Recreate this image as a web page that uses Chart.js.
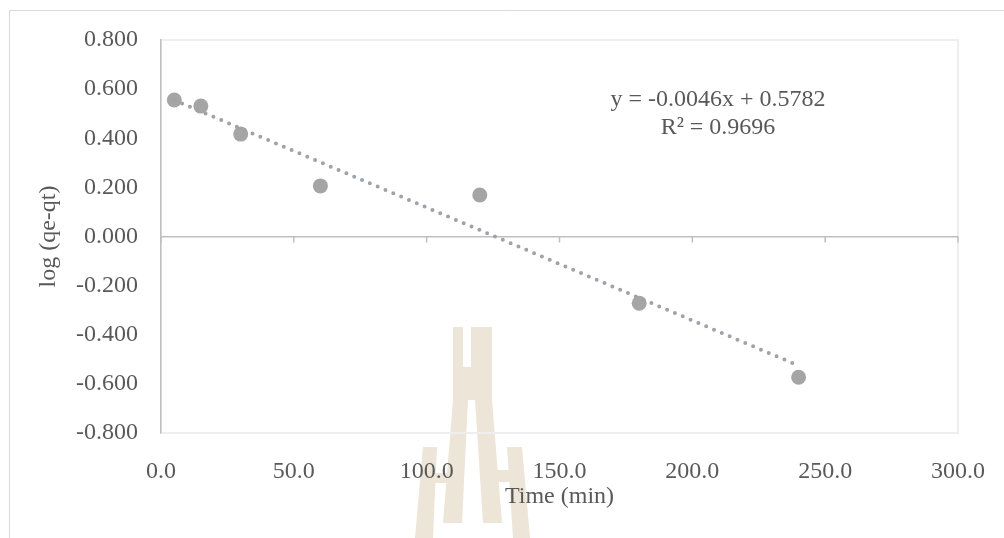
<!DOCTYPE html>
<html>
<head>
<meta charset="utf-8">
<script src="https://cdn.jsdelivr.net/npm/chart.js@4"></script>
<style>
  html, body { margin: 0; padding: 0; background: #fff; }
  #wrap { width: 1004px; height: 538px; }
</style>
</head>
<body>
<div id="wrap"><canvas id="kinetics" width="1004" height="538"></canvas></div>
<script>
// Pseudo-first-order plot: log(qe-qt) against contact time
const timeMin = [5, 15, 30, 60, 120, 180, 240];
const logQ = [0.556, 0.531, 0.417, 0.206, 0.169, -0.272, -0.573];

// Linear trendline as reported on the chart
const slope = -0.0046;
const intercept = 0.5782;
const rSquared = 0.9696;

const xTicks = [0, 50, 100, 150, 200, 250, 300];
const yTicks = [-0.8, -0.6, -0.4, -0.2, 0, 0.2, 0.4, 0.6, 0.8];

const textGrey = '#595959';
const axisGrey = '#bfbfbf';
const serif = "'Liberation Serif', 'Times New Roman', serif";

const trendX = [Math.min(...timeMin), Math.max(...timeMin)];
const trendPts = trendX.map(x => ({ x: x, y: slope * x + intercept }));
const points = timeMin.map((t, i) => ({ x: t, y: logQ[i] }));

// watermark, frame, zero-line ticks and equation label
const decorations = {
  id: 'decorations',
  beforeDraw(chart) {
    const ctx = chart.ctx;
    const area = chart.chartArea;
    ctx.save();

    // faint logo watermark behind the chart
    ctx.fillStyle = '#ede5d7';
    const shapes = [
      [[453, 327], [463, 327], [463, 367], [453, 367]],
      [[471, 327], [492, 327], [492, 367], [471, 367]],
      [[453, 367], [492, 367], [492, 400], [453, 400]],
      [[453, 400], [468, 400], [462, 523], [443, 523]],
      [[475, 400], [492, 400], [502, 523], [483, 523]],
      [[423, 447], [437, 447], [433, 538], [415, 538]],
      [[433, 473], [449, 473], [449, 483], [433, 483]],
      [[507, 447], [522, 447], [530, 538], [513, 538]],
      [[493, 470], [510, 470], [510, 482], [493, 482]]
    ];
    shapes.forEach(poly => {
      ctx.beginPath();
      poly.forEach((p, i) => i ? ctx.lineTo(p[0], p[1]) : ctx.moveTo(p[0], p[1]));
      ctx.closePath();
      ctx.fill();
    });

    // outer chart frame (top and left edges visible)
    ctx.strokeStyle = '#d9d9d9';
    ctx.lineWidth = 1;
    ctx.beginPath();
    ctx.moveTo(9.5, 538);
    ctx.lineTo(9.5, 10.5);
    ctx.lineTo(1004, 10.5);
    ctx.stroke();

    // plot area border
    ctx.strokeStyle = '#eeeeee';
    ctx.lineWidth = 2;
    ctx.strokeRect(area.left, area.top, area.right - area.left, area.bottom - area.top);
    ctx.restore();
  },
  beforeDatasetsDraw(chart) {
    const ctx = chart.ctx;
    const xs = chart.scales.x;
    const y0 = chart.scales.y.getPixelForValue(0);
    ctx.save();
    ctx.strokeStyle = axisGrey;
    ctx.lineWidth = 1.5;
    xTicks.forEach(v => {
      const px = xs.getPixelForValue(v);
      ctx.beginPath();
      ctx.moveTo(px, y0);
      ctx.lineTo(px, y0 + 6);
      ctx.stroke();
    });
    ctx.restore();
  },
  afterDraw(chart) {
    const ctx = chart.ctx;
    ctx.save();
    ctx.fillStyle = textGrey;
    ctx.font = '24px ' + serif;
    ctx.textAlign = 'center';
    ctx.textBaseline = 'middle';
    const sign = intercept >= 0 ? ' + ' : ' - ';
    ctx.fillText('y = ' + slope.toFixed(4) + 'x' + sign + Math.abs(intercept).toFixed(4), 718, 100);
    ctx.fillText('R\u00b2 = ' + rSquared.toFixed(4), 718, 128);
    ctx.restore();
  }
};

Chart.defaults.font.family = serif;
Chart.defaults.font.size = 24;
Chart.defaults.color = textGrey;

new Chart(document.getElementById('kinetics'), {
  type: 'scatter',
  data: {
    datasets: [
      {
        label: 'Linear (log (qe-qt))',
        data: trendPts,
        showLine: true,
        pointRadius: 0,
        borderColor: '#9ea2aa',
        borderWidth: 4,
        borderDash: [0, 8.5],
        borderCapStyle: 'round',
        fill: false
      },
      {
        label: 'log (qe-qt)',
        data: points,
        pointRadius: 7.5,
        pointBackgroundColor: '#a5a5a5',
        pointBorderColor: '#a5a5a5',
        pointBorderWidth: 0
      }
    ]
  },
  plugins: [decorations],
  options: {
    responsive: false,
    animation: false,
    layout: { padding: { left: 10, top: 40, right: 46, bottom: 0 } },
    plugins: {
      legend: { display: false },
      tooltip: { enabled: false }
    },
    scales: {
      x: {
        type: 'linear',
        min: 0,
        max: 300,
        afterBuildTicks: scale => { scale.ticks = xTicks.map(v => ({ value: v })); },
        afterFit: scale => { scale.height = 105; },
        ticks: {
          padding: 16,
          color: textGrey,
          callback: v => Number(v).toFixed(1)
        },
        grid: { display: false },
        border: { display: false },
        title: {
          display: true,
          text: 'Time (min)',
          color: textGrey,
          font: { size: 24 },
          padding: { top: 0, bottom: 27 }
        }
      },
      y: {
        type: 'linear',
        min: -0.8,
        max: 0.8,
        afterBuildTicks: scale => { scale.ticks = yTicks.map(v => ({ value: v })); },
        afterFit: scale => { scale.width = 151; },
        ticks: {
          padding: 23,
          color: textGrey,
          callback: v => (Math.abs(v) < 1e-9 ? 0 : v).toFixed(3)
        },
        grid: {
          drawTicks: false,
          lineWidth: 1.5,
          color: c => (c.tick && Math.abs(c.tick.value) < 1e-9) ? axisGrey : 'rgba(0,0,0,0)'
        },
        border: { display: true, color: axisGrey, width: 1.5 },
        title: {
          display: true,
          text: 'log (qe-qt)',
          color: textGrey,
          font: { size: 24 },
          padding: { top: 24, bottom: 0 }
        }
      }
    }
  }
});
</script>
</body>
</html>
